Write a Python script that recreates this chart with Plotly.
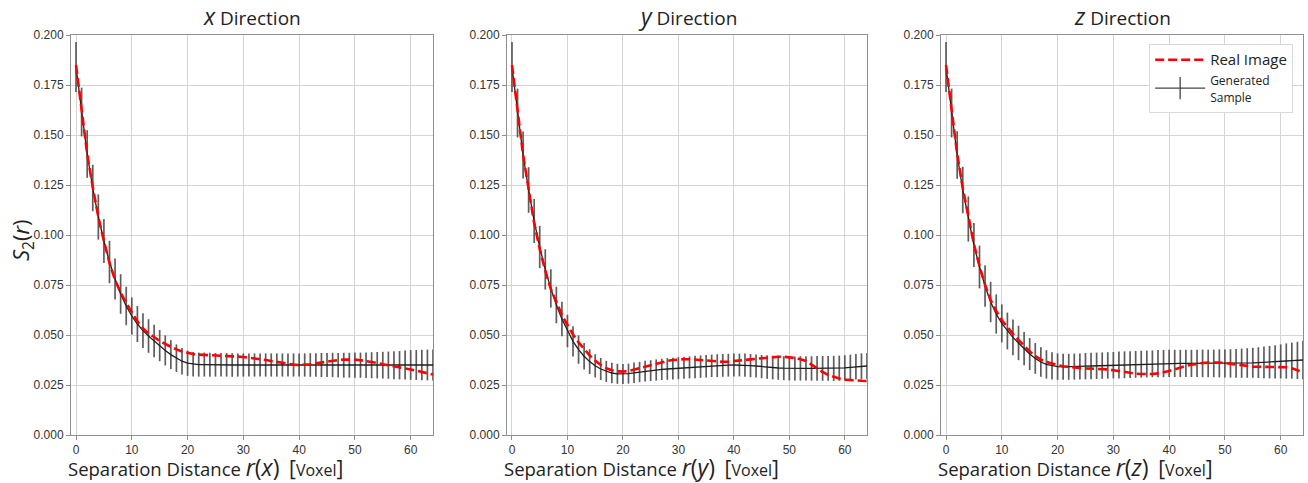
import plotly.graph_objects as go

r = list(range(65))

real_x = [
    0.1850, 0.1620, 0.1405, 0.1240, 0.1090, 0.0970, 0.0860, 0.0775, 0.0712, 0.0660,
    0.0612, 0.0568, 0.0533, 0.0508, 0.0490, 0.0470, 0.0455, 0.0440, 0.0428, 0.0418,
    0.0410, 0.0405, 0.0402, 0.0401, 0.0400, 0.0399, 0.0397, 0.0396, 0.0394, 0.0392,
    0.0390, 0.0387, 0.0384, 0.0380, 0.0375, 0.0370, 0.0365, 0.0360, 0.0356, 0.0352,
    0.0350, 0.0350, 0.0353, 0.0358, 0.0363, 0.0368, 0.0372, 0.0375, 0.0377, 0.0378,
    0.0377, 0.0374, 0.0370, 0.0365, 0.0360, 0.0354, 0.0348, 0.0343, 0.0338, 0.0333,
    0.0328, 0.0322, 0.0316, 0.0309, 0.0302]
mean_x = [
    0.1840, 0.1615, 0.1405, 0.1235, 0.1090, 0.0970, 0.0865, 0.0780, 0.0705, 0.0645,
    0.0595, 0.0555, 0.0522, 0.0495, 0.0470, 0.0447, 0.0423, 0.0402, 0.0384, 0.0369,
    0.0359, 0.0354, 0.0352, 0.0352, 0.0351, 0.0351, 0.0351, 0.0351, 0.0350, 0.0350,
    0.0350, 0.0350, 0.0350, 0.0350, 0.0350, 0.0350, 0.0350, 0.0350, 0.0350, 0.0350,
    0.0350, 0.0350, 0.0350, 0.0350, 0.0350, 0.0350, 0.0350, 0.0349, 0.0349, 0.0349,
    0.0349, 0.0349, 0.0349, 0.0349, 0.0349, 0.0349, 0.0349, 0.0349, 0.0349, 0.0350,
    0.0350, 0.0350, 0.0350, 0.0350, 0.0350]
err_x = [
    0.0125, 0.0122, 0.0119, 0.0116, 0.0113, 0.0110, 0.0106, 0.0102, 0.0099, 0.0096,
    0.0093, 0.0090, 0.0087, 0.0084, 0.0081, 0.0078, 0.0075, 0.0072, 0.0069, 0.0066,
    0.0063, 0.0061, 0.0060, 0.0060, 0.0060, 0.0059, 0.0059, 0.0059, 0.0059, 0.0058,
    0.0058, 0.0058, 0.0058, 0.0058, 0.0058, 0.0058, 0.0058, 0.0058, 0.0058, 0.0058,
    0.0058, 0.0058, 0.0059, 0.0059, 0.0060, 0.0060, 0.0061, 0.0061, 0.0062, 0.0062,
    0.0063, 0.0063, 0.0064, 0.0065, 0.0066, 0.0067, 0.0068, 0.0070, 0.0071, 0.0073,
    0.0074, 0.0075, 0.0076, 0.0077, 0.0078]

real_y = [
    0.1850, 0.1615, 0.1400, 0.1230, 0.1060, 0.0930, 0.0820, 0.0730, 0.0660, 0.0600,
    0.0550, 0.0502, 0.0463, 0.0430, 0.0398, 0.0372, 0.0350, 0.0334, 0.0324, 0.0318,
    0.0317, 0.0320, 0.0326, 0.0333, 0.0341, 0.0349, 0.0357, 0.0364, 0.0370, 0.0375,
    0.0378, 0.0379, 0.0379, 0.0377, 0.0374, 0.0371, 0.0368, 0.0366, 0.0366, 0.0367,
    0.0369, 0.0372, 0.0375, 0.0378, 0.0381, 0.0384, 0.0387, 0.0389, 0.0391, 0.0391,
    0.0389, 0.0385, 0.0379, 0.0370, 0.0352, 0.0332, 0.0315, 0.0301, 0.0290, 0.0282,
    0.0277, 0.0274, 0.0272, 0.0271, 0.0270]
mean_y = [
    0.1840, 0.1610, 0.1400, 0.1225, 0.1070, 0.0940, 0.0828, 0.0733, 0.0650, 0.0580,
    0.0520, 0.0468, 0.0427, 0.0394, 0.0367, 0.0346, 0.0330, 0.0318, 0.0310, 0.0306,
    0.0305, 0.0307, 0.0311, 0.0315, 0.0319, 0.0322, 0.0325, 0.0328, 0.0330, 0.0332,
    0.0334, 0.0336, 0.0338, 0.0340, 0.0342, 0.0344, 0.0346, 0.0347, 0.0348, 0.0349,
    0.0350, 0.0350, 0.0349, 0.0347, 0.0345, 0.0342, 0.0340, 0.0337, 0.0335, 0.0334,
    0.0333, 0.0333, 0.0333, 0.0333, 0.0333, 0.0333, 0.0333, 0.0333, 0.0333, 0.0334,
    0.0336, 0.0338, 0.0341, 0.0343, 0.0345]
err_y = [
    0.0125, 0.0122, 0.0118, 0.0114, 0.0110, 0.0106, 0.0101, 0.0096, 0.0091, 0.0086,
    0.0081, 0.0076, 0.0071, 0.0066, 0.0062, 0.0058, 0.0055, 0.0053, 0.0051, 0.0050,
    0.0050, 0.0050, 0.0051, 0.0051, 0.0052, 0.0052, 0.0053, 0.0053, 0.0054, 0.0054,
    0.0055, 0.0055, 0.0055, 0.0056, 0.0056, 0.0056, 0.0056, 0.0057, 0.0057, 0.0057,
    0.0057, 0.0057, 0.0058, 0.0058, 0.0058, 0.0058, 0.0059, 0.0059, 0.0059, 0.0060,
    0.0060, 0.0060, 0.0061, 0.0061, 0.0061, 0.0062, 0.0062, 0.0062, 0.0063, 0.0063,
    0.0063, 0.0064, 0.0064, 0.0065, 0.0065]

real_z = [
    0.1850, 0.1620, 0.1405, 0.1235, 0.1085, 0.0955, 0.0845, 0.0752, 0.0675, 0.0620,
    0.0575, 0.0537, 0.0505, 0.0475, 0.0445, 0.0418, 0.0395, 0.0377, 0.0365, 0.0356,
    0.0349, 0.0344, 0.0340, 0.0337, 0.0335, 0.0333, 0.0332, 0.0331, 0.0330, 0.0328,
    0.0324, 0.0319, 0.0314, 0.0310, 0.0307, 0.0305, 0.0304, 0.0305, 0.0308, 0.0313,
    0.0320, 0.0328, 0.0337, 0.0345, 0.0351, 0.0356, 0.0360, 0.0362, 0.0363, 0.0362,
    0.0360, 0.0356, 0.0352, 0.0348, 0.0344, 0.0342, 0.0341, 0.0341, 0.0341, 0.0341,
    0.0341, 0.0339, 0.0334, 0.0324, 0.0310]
mean_z = [
    0.1840, 0.1610, 0.1400, 0.1225, 0.1080, 0.0950, 0.0840, 0.0745, 0.0665, 0.0605,
    0.0558, 0.0520, 0.0488, 0.0460, 0.0432, 0.0405, 0.0383, 0.0365, 0.0353, 0.0346,
    0.0342, 0.0341, 0.0341, 0.0342, 0.0343, 0.0344, 0.0345, 0.0346, 0.0347, 0.0348,
    0.0349, 0.0350, 0.0351, 0.0352, 0.0353, 0.0354, 0.0355, 0.0356, 0.0357, 0.0357,
    0.0358, 0.0358, 0.0358, 0.0358, 0.0358, 0.0358, 0.0358, 0.0358, 0.0358, 0.0358,
    0.0358, 0.0358, 0.0358, 0.0359, 0.0360, 0.0361, 0.0362, 0.0363, 0.0364, 0.0366,
    0.0368, 0.0370, 0.0372, 0.0373, 0.0375]
err_z = [
    0.0125, 0.0122, 0.0119, 0.0116, 0.0113, 0.0110, 0.0107, 0.0104, 0.0101, 0.0098,
    0.0095, 0.0092, 0.0089, 0.0086, 0.0083, 0.0080, 0.0077, 0.0074, 0.0071, 0.0068,
    0.0066, 0.0065, 0.0065, 0.0065, 0.0065, 0.0066, 0.0066, 0.0066, 0.0066, 0.0066,
    0.0066, 0.0067, 0.0067, 0.0067, 0.0067, 0.0067, 0.0067, 0.0067, 0.0068, 0.0068,
    0.0068, 0.0068, 0.0068, 0.0068, 0.0068, 0.0068, 0.0069, 0.0069, 0.0069, 0.0070,
    0.0070, 0.0071, 0.0072, 0.0073, 0.0074, 0.0075, 0.0077, 0.0079, 0.0081, 0.0083,
    0.0085, 0.0088, 0.0090, 0.0093, 0.0096]

directions = ["x", "y", "z"]
reals = [real_x, real_y, real_z]
means = [mean_x, mean_y, mean_z]
errs = [err_x, err_y, err_z]
x_ticks = [0, 10, 20, 30, 40, 50, 60]
y_ticks = [0.0, 0.025, 0.05, 0.075, 0.1, 0.125, 0.15, 0.175, 0.2]

W, H = 1308, 483
ML, MR, MT, MB = 71, 5, 35, 48
PW = W - ML - MR
domains = [
    [0.0, 362 / PW],
    [(507 - ML) / PW, (867 - ML) / PW],
    [(941 - ML) / PW, 1.0],
]

fig = go.Figure()
for i in range(3):
    sfx = "" if i == 0 else str(i + 1)
    fig.add_trace(go.Scatter(
        x=r, y=means[i], mode="lines",
        line=dict(color="#1e1e1e", width=1.3),
        error_y=dict(type="data", array=errs[i], visible=True,
                     color="rgba(75,75,75,0.9)", thickness=1.7, width=0),
        xaxis="x" + sfx, yaxis="y" + sfx, showlegend=False,
    ))
    fig.add_trace(go.Scatter(
        x=r, y=reals[i], mode="lines",
        line=dict(color="#ff0000", width=2.6, dash="9px,4px"),
        xaxis="x" + sfx, yaxis="y" + sfx,
        name="<span style='font-size:15px'>Real Image</span>",
        showlegend=(i == 2), legendrank=1,
    ))

# legend-only entry for the generated sample (line with error-bar tick)
fig.add_trace(go.Scatter(
    x=[None], y=[None], mode="lines+markers",
    line=dict(color="#444444", width=1.3),
    marker=dict(symbol="line-ns-open", size=18, line=dict(color="#444444", width=1.3)),
    xaxis="x3", yaxis="y3",
    name="<span style='font-size:12px'>Generated</span><br><span style='font-size:12px'>Sample</span>",
    showlegend=True, legendrank=2,
))

axis_common = dict(
    showgrid=True, gridcolor="#d4d4d4", gridwidth=1, zeroline=False,
    showline=True, linecolor="#8f8f8f", linewidth=1, mirror=True,
    ticks="outside", ticklen=4, tickcolor="#8f8f8f",
    tickfont=dict(family="Liberation Sans, Arial", size=12, color="#333333"),
)

layout = dict(
    width=W, height=H, autosize=False,
    margin=dict(l=ML, r=MR, t=MT, b=MB),
    paper_bgcolor="white", plot_bgcolor="white",
    showlegend=True,
    legend=dict(
        x=0.992, y=0.978, xanchor="right", yanchor="top",
        bgcolor="white", bordercolor="#d9d9d9", borderwidth=1,
        font=dict(family="Open Sans", size=13, color="#222222"),
        tracegroupgap=0, itemwidth=50,
    ),
    annotations=[],
)
for i in range(3):
    sfx = "" if i == 0 else str(i + 1)
    layout["xaxis" + sfx] = dict(
        axis_common, domain=domains[i], range=[-0.9, 64], tickvals=x_ticks,
        anchor="y" + sfx,
    )
    layout["yaxis" + sfx] = dict(
        axis_common, domain=[0, 1], range=[0, 0.2], tickvals=y_ticks,
        tickformat=".3f", anchor="x" + sfx,
    )
    d = directions[i]
    cx = (domains[i][0] + domains[i][1]) / 2
    layout["annotations"].append(dict(
        text=f"<i><span style='font-size:23px'>{d}</span></i> Direction",
        x=cx, y=1 + (MT - 16) / 400, xref="paper", yref="paper",
        xanchor="center", yanchor="middle", showarrow=False,
        font=dict(family="Open Sans", size=19, color="#222222"),
    ))
    layout["annotations"].append(dict(
        text=(f"Separation Distance <i><span style='font-size:23px'>r</span></i>"
              f"<span style='font-size:23px'>(<i>{d}</i>)</span>  "
              f"<span style='font-size:21px'>[</span><span style='font-size:16px'>Voxel</span>"
              f"<span style='font-size:21px'>]</span>"),
        x=domains[i][0] - 5 / PW, y=-(467 - 435) / 400, xref="paper", yref="paper",
        xanchor="left", yanchor="middle", showarrow=False,
        font=dict(family="Open Sans", size=18.5, color="#222222"),
    ))

layout["annotations"].append(dict(
    text="<i>S</i><sub>2</sub>(<i>r</i>)",
    x=(22 - ML) / PW, y=(435 - 240) / 400, xref="paper", yref="paper",
    xanchor="center", yanchor="middle", showarrow=False, textangle=-90,
    font=dict(family="Open Sans", size=22, color="#222222"),
))

fig.update_layout(layout)
fig.write_html("out.html")
